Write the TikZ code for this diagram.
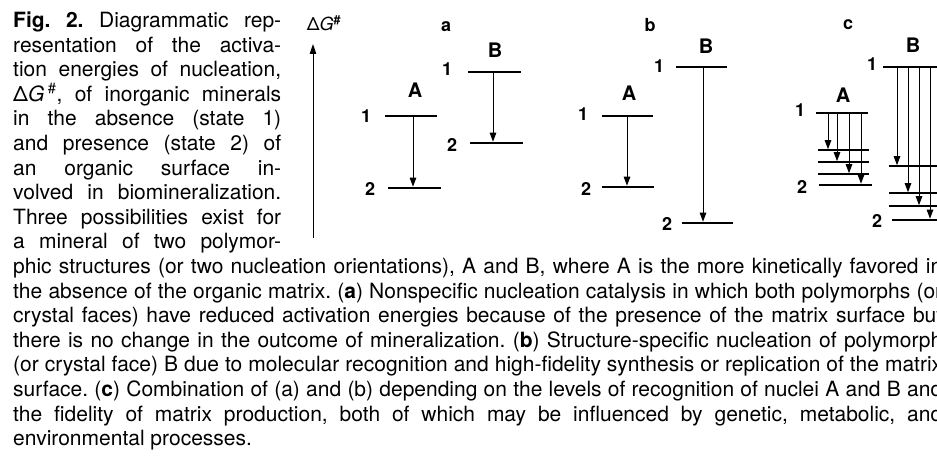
\documentclass[tikz,border=0pt]{standalone}
\usepackage{fontspec}
\setmainfont{TeX Gyre Heros}
\usetikzlibrary{arrows.meta}
\newcommand\jline[2]{\makebox[#1][s]{#2}}
\begin{document}
\begin{tikzpicture}[x=1pt,y=-1pt,
  lvl/.style={line width=2.6pt},
  sublvl/.style={line width=1.5pt},
  arr/.style={line width=1pt,-{Triangle[length=9pt,width=6.5pt]}},
  lab/.style={font=\fontsize{20}{20}\selectfont\bfseries, inner sep=0pt},
  num/.style={font=\fontsize{18}{18}\selectfont\bfseries, inner sep=0pt},
  capline/.style={anchor=base west, inner sep=0pt, font=\fontsize{21}{21}\selectfont\frenchspacing}
]
\useasboundingbox (0,0) rectangle (937,457);
\clip (0,0) rectangle (937,457);

% ---------- caption ----------
\node[capline] (l1) at (13,27.5) {\jline{268pt}{\textbf{Fig. 2.} Diagrammatic rep-}};
\node[capline] (l2) at (13,52.1) {\jline{268pt}{resentation of the activa-}};
\node[capline] (l3) at (13,76.7) {\jline{268pt}{tion energies of nucleation,}};
\node[capline] (l4) at (13,101.3) {\jline{268pt}{Δ\textit{G}\,\textsuperscript{\#}, of inorganic minerals}};
\node[capline] (l5) at (13,125.9) {\jline{268pt}{in the absence (state 1)}};
\node[capline] (l6) at (13,150.5) {\jline{268pt}{and presence (state 2) of}};
\node[capline] (l7) at (13,175.1) {\jline{268pt}{an organic surface in-}};
\node[capline] (l8) at (13,199.7) {\jline{268pt}{volved in biomineralization.}};
\node[capline] (l9) at (13,224.3) {\jline{268pt}{Three possibilities exist for}};
\node[capline] (l10) at (13,248.9) {\jline{268pt}{a mineral of two polymor-}};
\node[capline] (l11) at (13,273.5) {\jline{929pt}{phic structures (or two nucleation orientations), A and B, where A is the more kinetically favored in}};
\node[capline] (l12) at (13,298.1) {\jline{929pt}{the absence of the organic matrix. (\textbf{a}) Nonspecific nucleation catalysis in which both polymorphs (or}};
\node[capline] (l13) at (13,322.7) {\jline{929pt}{crystal faces) have reduced activation energies because of the presence of the matrix surface but}};
\node[capline] (l14) at (13,347.3) {\jline{929pt}{there is no change in the outcome of mineralization. (\textbf{b}) Structure-specific nucleation of polymorph}};
\node[capline] (l15) at (13,371.9) {\jline{929pt}{(or crystal face) B due to molecular recognition and high-fidelity synthesis or replication of the matrix}};
\node[capline] (l16) at (13,396.5) {\jline{929pt}{surface. (\textbf{c}) Combination of (a) and (b) depending on the levels of recognition of nuclei A and B and}};
\node[capline] (l17) at (13,421.1) {\jline{929pt}{the fidelity of matrix production, both of which may be influenced by genetic, metabolic, and}};
\node[capline] (l18) at (13,445.7) {environmental processes.};

% ---------- axis ----------
\coordinate (ax0) at (313,238);
\coordinate (ax1) at (313,44);
\draw[line width=1pt,-{Triangle[length=10pt,width=6.5pt]}] (ax0) -- (ax1);
\node[inner sep=0pt,font=\fontsize{18}{18}\selectfont] (dg) at (324,23) {Δ\textit{G}\textsuperscript{\bfseries\#}};

% ---------- panel a ----------
\node[num] (pa) at (446,27) {a};
\node[lab] (aA) at (415,90) {A};
\node[lab] (aB) at (495,50) {B};
\draw[lvl] (385,116) -- (437,116);
\draw[lvl] (388,188) -- (441,188);
\draw[lvl] (468,72) -- (521,72);
\draw[lvl] (470,143) -- (523,143);
\node[num] (aA1) at (366,116) {1};
\node[num] (aA2) at (370,189) {2};
\node[num] (aB1) at (447,69) {1};
\node[num] (aB2) at (452,145) {2};
\coordinate (aAs) at (413,116); \coordinate (aAe) at (413,186.7);
\coordinate (aBs) at (493,72);  \coordinate (aBe) at (493,141.7);
\draw[arr] (aAs) -- (aAe);
\draw[arr] (aBs) -- (aBe);

% ---------- panel b ----------
\node[num] (pb) at (650,25) {b};
\node[lab] (bA) at (629,93) {A};
\node[lab] (bB) at (706,46) {B};
\draw[lvl] (602,116) -- (653,116);
\draw[lvl] (602,187) -- (654,187);
\draw[lvl] (676,67) -- (727,67);
\draw[lvl] (682,223) -- (733,223);
\node[num] (bA1) at (583,114) {1};
\node[num] (bA2) at (586,189) {2};
\node[num] (bB1) at (659,66) {1};
\node[num] (bB2) at (667,224) {2};
\coordinate (bAs) at (627,116); \coordinate (bAe) at (627,185.7);
\coordinate (bBs) at (703,67);  \coordinate (bBe) at (703,221.7);
\draw[arr] (bAs) -- (bAe);
\draw[arr] (bBs) -- (bBe);

% ---------- panel c ----------
\node[num] (pc) at (848,25) {c};
\node[lab] (cA) at (843,95) {A};
\node[lab] (cB) at (913,45) {B};
\draw[lvl] (816,113) -- (868,113);
\draw[sublvl] (818,150) -- (869,150);
\draw[sublvl] (818,162) -- (869,162);
\draw[sublvl] (818,174) -- (869,174);
\draw[lvl] (819,185) -- (872,185);
\draw[lvl] (883,67) -- (945,67);
\draw[sublvl] (889,166) -- (945,166);
\draw[sublvl] (889,193) -- (945,193);
\draw[sublvl] (889,206) -- (945,206);
\draw[lvl] (892,220) -- (945,220);
\node[num] (cA1) at (800,110) {1};
\node[num] (cA2) at (802,187) {2};
\node[num] (cB1) at (872,64) {1};
\node[num] (cB2) at (877,221) {2};
\coordinate (cA1s) at (828,113); \coordinate (cA1e) at (828,149.2);
\coordinate (cA2s) at (837,113); \coordinate (cA2e) at (837,161.2);
\coordinate (cA3s) at (849,113); \coordinate (cA3e) at (849,173.2);
\coordinate (cA4s) at (861,113); \coordinate (cA4e) at (861,183.7);
\coordinate (cB1s) at (897,67); \coordinate (cB1e) at (897,165.2);
\coordinate (cB2s) at (908,67); \coordinate (cB2e) at (908,192.2);
\coordinate (cB3s) at (919,67); \coordinate (cB3e) at (919,205.2);
\coordinate (cB4s) at (930,67); \coordinate (cB4e) at (930,218.7);
\foreach \n in {cA1,cA2,cA3,cA4,cB1,cB2,cB3,cB4} \draw[arr] (\n s) -- (\n e);
\end{tikzpicture}
\end{document}
